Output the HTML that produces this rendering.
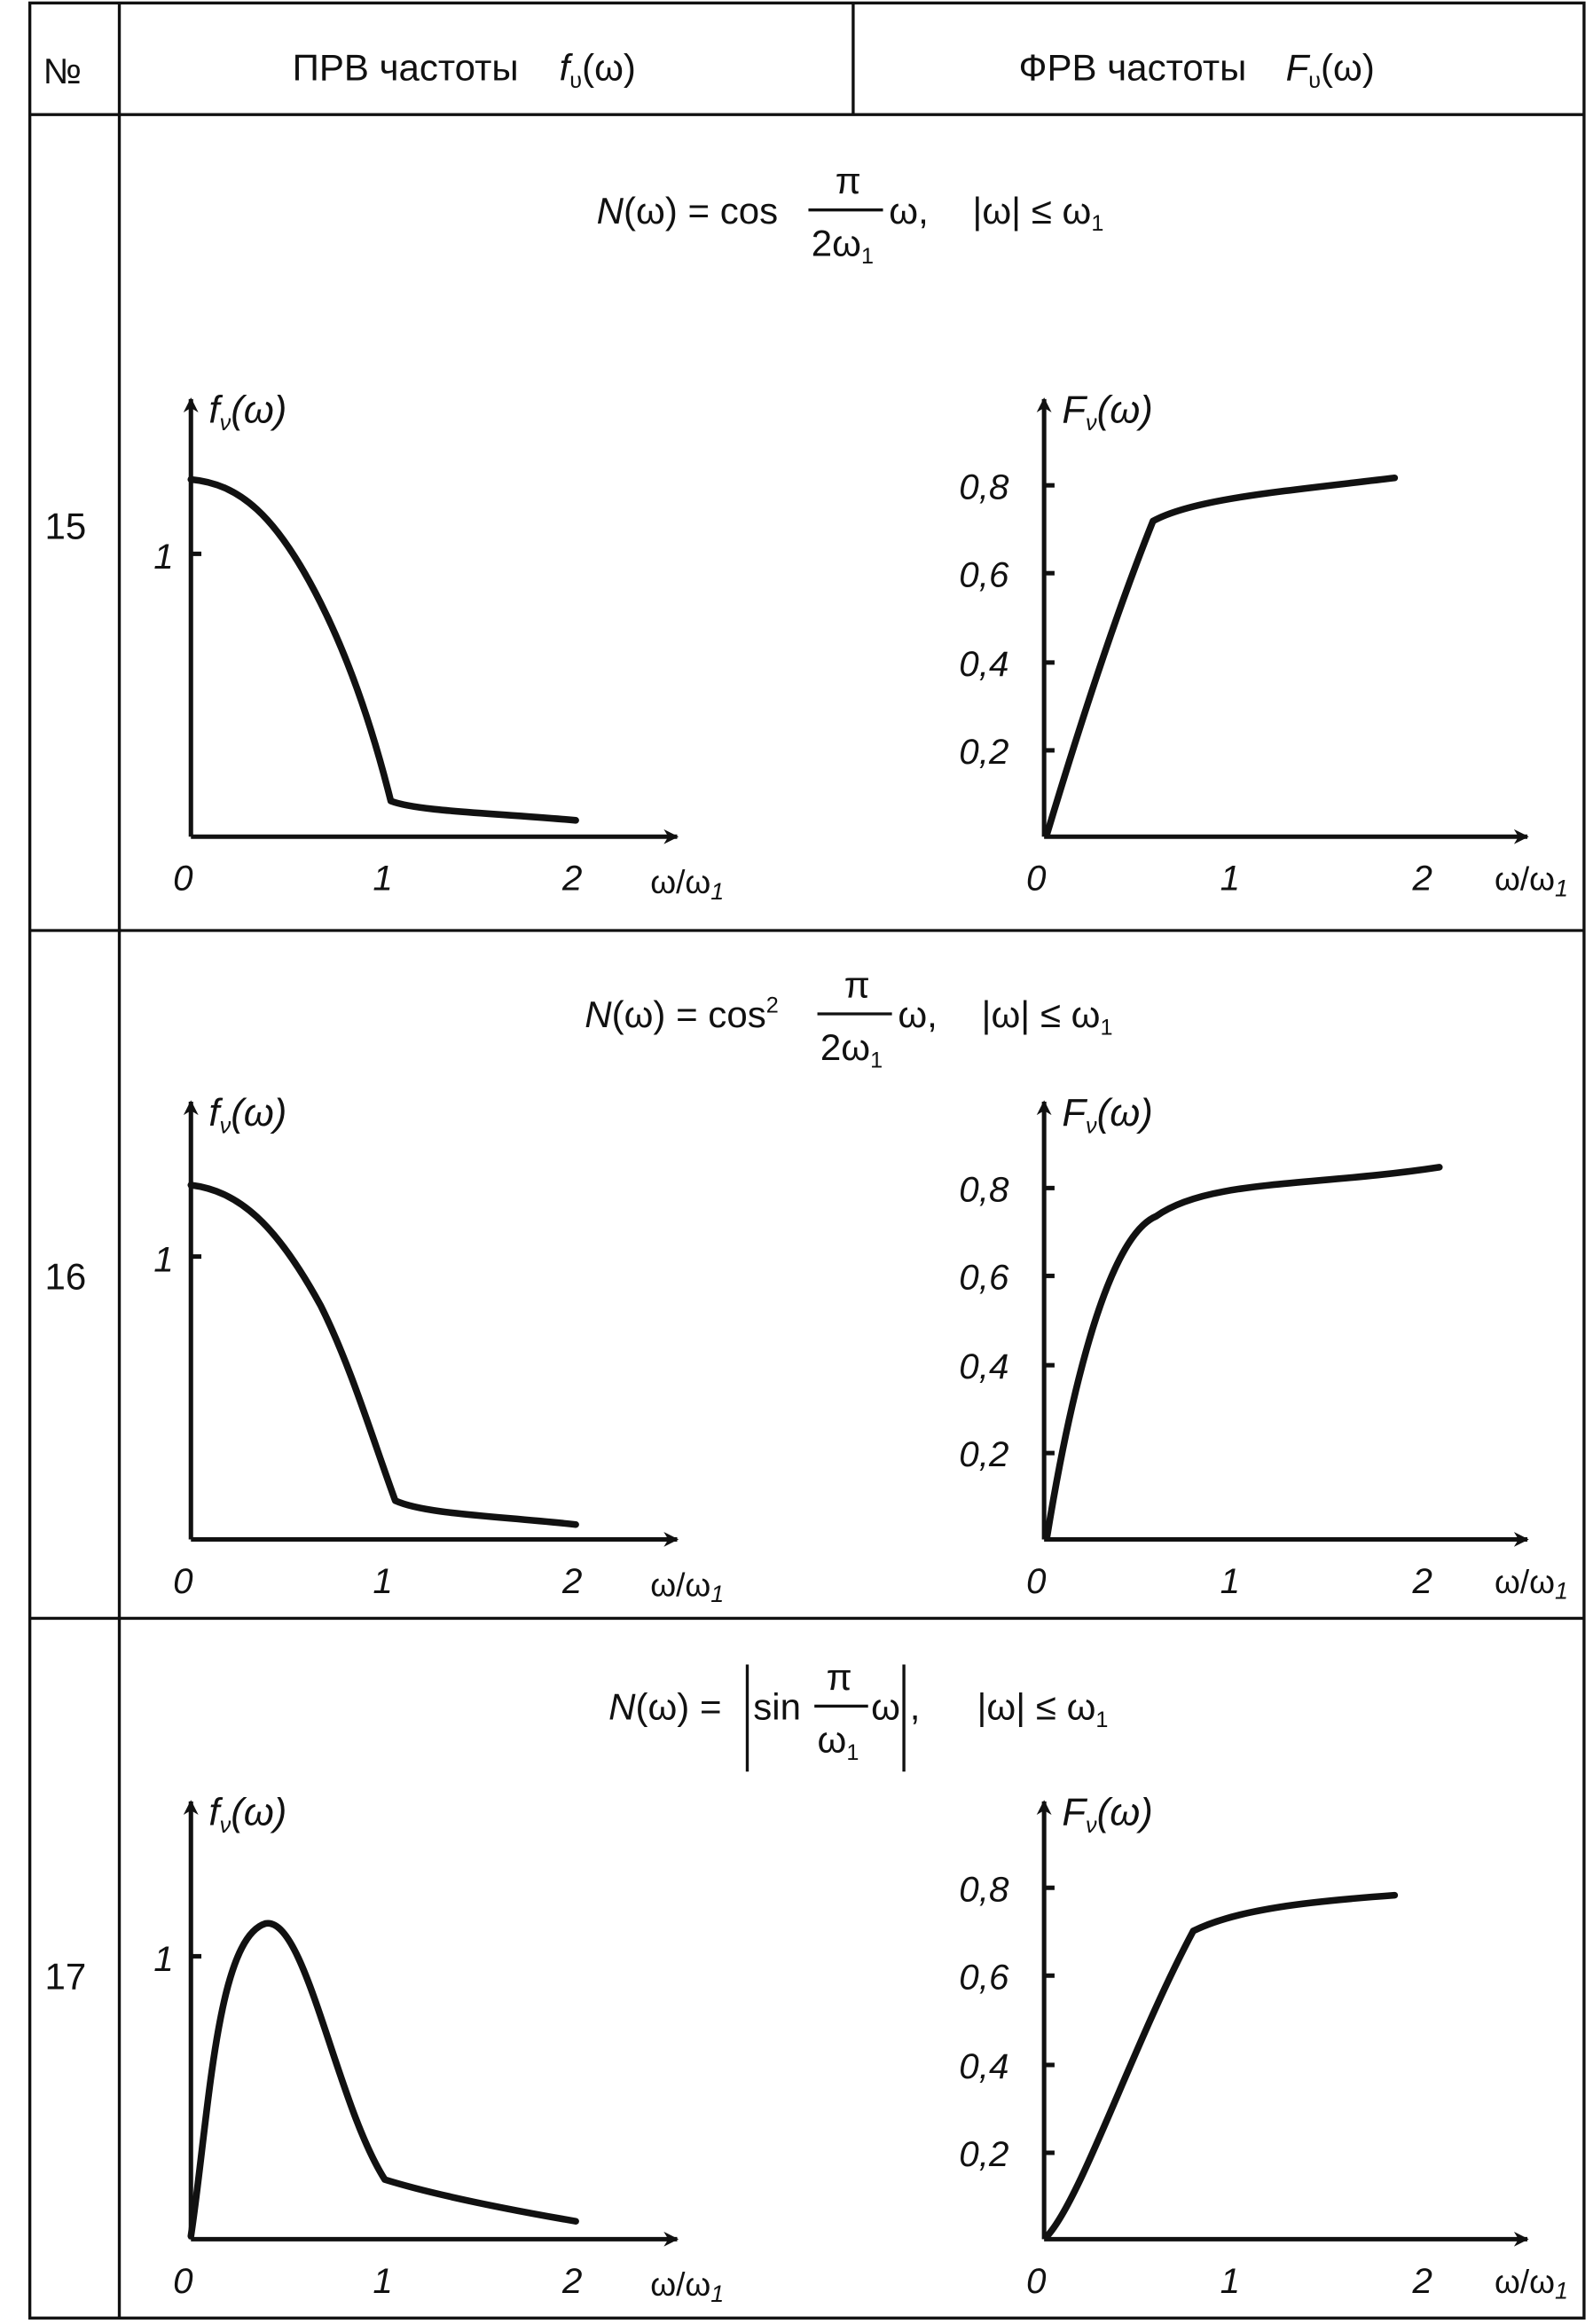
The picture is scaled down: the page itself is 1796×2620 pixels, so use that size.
<!DOCTYPE html>
<html><head><meta charset="utf-8"><style>
html,body{margin:0;padding:0;background:#fff}
svg{display:block}
text{font-family:"Liberation Sans",sans-serif;fill:#111}
.i{font-style:italic}
.ax{stroke:#111;stroke-width:3;fill:none}
.c{stroke:#111;stroke-width:4.5;fill:none;stroke-linejoin:round;stroke-linecap:round}
</style></head><body>
<svg width="1796" height="2620" viewBox="0 0 1068 1561" preserveAspectRatio="none">
<defs>
<marker id="a" markerWidth="10" markerHeight="10" refX="9" refY="5" orient="auto" markerUnits="userSpaceOnUse" viewBox="0 0 10 10"><path d="M0,0 L10,5 L0,10 L3,5 z" fill="#111"/></marker>
<g id="L">
<path class="ax" d="M128,562 V268" marker-end="url(#a)"/>
<path class="ax" d="M128,562 H454" marker-end="url(#a)"/>
<text x="116" y="598" font-size="24" class="i">0</text>
<text x="250" y="598" font-size="24" class="i">1</text>
<text x="377" y="598" font-size="24" class="i">2</text>
<text x="436" y="600" font-size="22">ω/ω<tspan class="i" font-size="16" dy="4">1</tspan></text>
<line x1="128" y1="372" x2="135" y2="372" class="ax"/>
<text x="103" y="382" font-size="24" class="i">1</text>
<text x="140" y="284" font-size="26" class="i">f<tspan font-size="15" dy="5">ν</tspan><tspan dy="-5">(ω)</tspan></text>
</g>
<g id="R">
<path class="ax" d="M700,562 V268" marker-end="url(#a)"/>
<path class="ax" d="M700,562 H1024" marker-end="url(#a)"/>
<text x="688" y="598" font-size="24" class="i">0</text>
<text x="818" y="598" font-size="24" class="i">1</text>
<text x="947" y="598" font-size="24" class="i">2</text>
<text x="1002" y="598" font-size="22">ω/ω<tspan class="i" font-size="16" dy="4">1</tspan></text>
<g class="ax"><line x1="700" y1="504" x2="707" y2="504"/><line x1="700" y1="445" x2="707" y2="445"/><line x1="700" y1="385" x2="707" y2="385"/><line x1="700" y1="326" x2="707" y2="326"/></g>
<g font-size="24" class="i"><text x="643" y="513">0,2</text><text x="643" y="454">0,4</text><text x="643" y="394">0,6</text><text x="643" y="335">0,8</text></g>
<text x="712" y="284" font-size="26" class="i">F<tspan font-size="15" dy="5">ν</tspan><tspan dy="-5">(ω)</tspan></text>
</g>
</defs>
<rect x="20" y="2" width="1042" height="1555" fill="none" stroke="#111" stroke-width="2"/>
<g stroke="#111" stroke-width="2">
<line x1="80" y1="2" x2="80" y2="1557"/>
<line x1="572" y1="2" x2="572" y2="77"/>
<line x1="20" y1="77" x2="1062" y2="77"/>
<line x1="20" y1="625" x2="1062" y2="625"/>
<line x1="20" y1="1087" x2="1062" y2="1087"/>
</g>
<text x="29" y="56" font-size="24">№</text>
<text x="196" y="54" font-size="25">ПРВ частоты</text>
<text x="375" y="54" font-size="25"><tspan class="i">f</tspan><tspan font-size="15" dy="5">υ</tspan><tspan dy="-5">(ω)</tspan></text>
<text x="683" y="54" font-size="25">ФРВ частоты</text>
<text x="862" y="54" font-size="25"><tspan class="i">F</tspan><tspan font-size="15" dy="5">υ</tspan><tspan dy="-5">(ω)</tspan></text>
<text x="30" y="362" font-size="25">15</text>
<text x="30" y="866" font-size="25">16</text>
<text x="30" y="1336" font-size="25">17</text>

<g font-size="25">
<text x="400" y="150"><tspan class="i">N</tspan>(ω) = cos</text>
<text x="560" y="130">π</text>
<text x="544" y="172">2ω<tspan font-size="15" dy="5">1</tspan></text>
<text x="596" y="150">ω,</text>
<text x="652" y="150">|ω| ≤ ω<tspan font-size="15" dy="5">1</tspan></text>

<text x="392" y="690"><tspan class="i">N</tspan>(ω) = cos<tspan font-size="15" dy="-10">2</tspan></text>
<text x="566" y="670">π</text>
<text x="550" y="712">2ω<tspan font-size="15" dy="5">1</tspan></text>
<text x="602" y="690">ω,</text>
<text x="658" y="690">|ω| ≤ ω<tspan font-size="15" dy="5">1</tspan></text>

<text x="408" y="1155"><tspan class="i">N</tspan>(ω) =</text>
<text x="505" y="1155">sin</text>
<text x="554" y="1135">π</text>
<text x="548" y="1177">ω<tspan font-size="15" dy="5">1</tspan></text>
<text x="584" y="1155">ω</text>
<text x="610" y="1155">,</text>
<text x="655" y="1155">|ω| ≤ ω<tspan font-size="15" dy="5">1</tspan></text>
</g>
<g stroke="#111" stroke-width="2">
<line x1="542" y1="141" x2="592" y2="141"/>
<line x1="548" y1="681" x2="598" y2="681"/>
<line x1="546" y1="1146" x2="582" y2="1146"/>
<line x1="501" y1="1118" x2="501" y2="1190"/>
<line x1="606" y1="1118" x2="606" y2="1190"/>
</g>

<use href="#L"/><use href="#R"/>
<path class="c" d="M128,322 C160,325 185,345 215,405 C235,445 250,490 262,538 C280,545 330,546 386,551"/>
<path class="c" d="M702,560 C720,500 745,420 773,350 C800,335 860,330 935,321"/>

<g transform="translate(0,472)"><use href="#L"/><use href="#R"/>
<path class="c" d="M128,324 C160,328 185,350 215,405 C235,445 250,495 265,536 C285,545 330,546 386,552"/>
<path class="c" d="M702,560 C715,480 740,360 775,345 C810,320 880,325 965,312"/>
</g>
<g transform="translate(0,942)"><use href="#L"/><use href="#R"/>
<path class="c" d="M128,560 C140,480 145,360 178,350 C205,345 225,470 258,522 C290,532 340,542 386,550"/>
<path class="c" d="M702,560 C725,535 760,430 800,355 C830,340 880,335 935,331"/>
</g>
</svg>
</body></html>
